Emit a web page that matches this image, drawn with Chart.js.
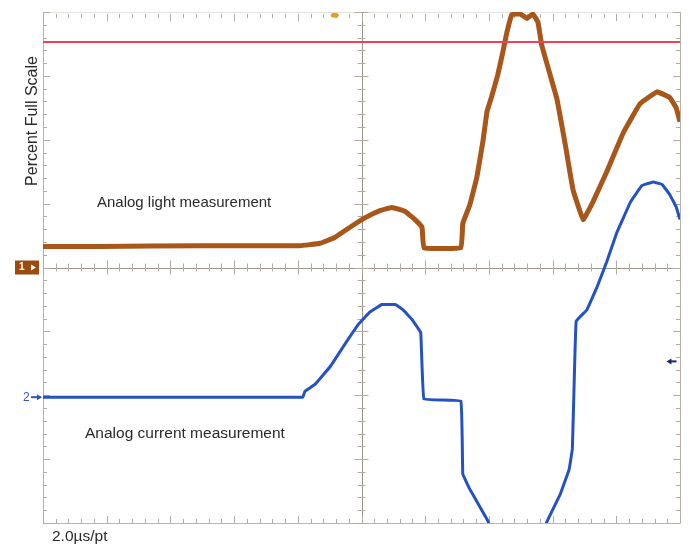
<!DOCTYPE html>
<html>
<head>
    <title>Analog light and current measurement</title>
    <script src="https://cdn.jsdelivr.net/npm/chart.js"></script>
    <style>
        body { margin: 0; background: #fff; }
        #wrap { width: 690px; height: 545px; }
    </style>
</head>
<body>
    <div id="wrap"><canvas id="scopeChart"></canvas></div>

    <script>
        // time axis in screen divisions (0..10), amplitude in divisions (-4..4)
        const lightX = [0, 0.9, 2.47, 4.03, 4.35, 4.58, 4.82, 5.06, 5.29, 5.48, 5.68, 5.84, 5.95, 5.98, 6.56, 6.59,
            6.70, 6.81, 6.91, 6.97, 7.05, 7.14, 7.22, 7.28, 7.36, 7.49, 7.60, 7.69, 7.77, 7.83, 7.96, 8.07, 8.20,
            8.32, 8.48, 8.63, 8.85, 9.11, 9.37, 9.64, 9.84, 9.94, 10];
        const lightY = [0.33, 0.33, 0.34, 0.34, 0.38, 0.47, 0.63, 0.78, 0.89, 0.94, 0.88, 0.75, 0.63, 0.31, 0.31, 0.69,
            0.98, 1.41, 2.0, 2.44, 2.70, 3.02, 3.38, 3.67, 3.96, 3.97, 3.90, 3.97, 3.84, 3.48, 3.02, 2.63, 1.92,
            1.22, 0.75, 1.02, 1.5, 2.11, 2.56, 2.75, 2.66, 2.5, 2.28];

        const currentX = [0, 1.68, 3.25, 4.08, 4.11, 4.27, 4.51, 4.74, 4.95, 5.13, 5.32, 5.53, 5.65, 5.79, 5.93, 5.98,
            6.56, 6.59, 6.70, 6.86, 6.99, 7.17, 7.44, 7.72, 7.91, 8.12, 8.26, 8.31, 8.34, 8.37, 8.54, 8.70, 8.85,
            9.01, 9.22, 9.40, 9.58, 9.72, 9.84, 9.94, 10];
        const currentY = [-2.03, -2.03, -2.03, -2.03, -1.94, -1.83, -1.55, -1.2, -0.89, -0.70, -0.58, -0.58, -0.66,
            -0.81, -1.02, -2.06, -2.09, -3.23, -3.47, -3.75, -3.98, -4.56, -5.03, -4.56, -3.98, -3.55, -3.16, -2.84,
            -1.75, -0.84, -0.66, -0.30, 0.09, 0.55, 1.02, 1.28, 1.34, 1.30, 1.14, 0.95, 0.75];

        const limitLevel = 3.53;
        const ch2Level = -2.03;
        const triggerLevel = -1.47;
        const triggerPos = 4.58;

        const toPoints = (xs, ys) => xs.map((x, i) => ({ x: x, y: ys[i] }));

        // scope graticule, ticks, markers and labels
        const scopeFrame = {
            id: 'scopeFrame',
            beforeDatasetsDraw(chart) {
                const ctx = chart.ctx;
                const xs = chart.scales.x, ys = chart.scales.y;
                const left = xs.getPixelForValue(0), right = xs.getPixelForValue(10);
                const top = ys.getPixelForValue(4), bottom = ys.getPixelForValue(-4);
                const cx = xs.getPixelForValue(5), cy = ys.getPixelForValue(0);
                ctx.save();
                ctx.lineWidth = 1;
                ctx.strokeStyle = '#b8b4ac';
                ctx.beginPath();
                ctx.moveTo(left + 0.5, top); ctx.lineTo(left + 0.5, bottom + 0.5);
                ctx.lineTo(right + 0.5, bottom + 0.5); ctx.lineTo(right + 0.5, top);
                ctx.stroke();
                ctx.strokeStyle = '#e6e4e0';
                ctx.beginPath();
                ctx.moveTo(left, top + 0.5); ctx.lineTo(right, top + 0.5);
                ctx.stroke();
                // centre cross
                ctx.strokeStyle = '#9a968e';
                ctx.beginPath();
                ctx.moveTo(Math.round(cx) + 0.5, top); ctx.lineTo(Math.round(cx) + 0.5, bottom);
                ctx.moveTo(left, Math.round(cy) + 0.5); ctx.lineTo(right, Math.round(cy) + 0.5);
                ctx.stroke();
                // minor ticks
                ctx.strokeStyle = '#b0aca4';
                ctx.beginPath();
                for (let i = 0; i <= 50; i++) {
                    const px = Math.round(xs.getPixelForValue(i / 5)) + 0.5;
                    const len = i % 5 === 0 ? 7 : 4;
                    ctx.moveTo(px, bottom); ctx.lineTo(px, bottom - len);
                    ctx.moveTo(px, top + 2); ctx.lineTo(px, top + 2 + len);
                    ctx.moveTo(px, cy - len); ctx.lineTo(px, cy + len);
                }
                for (let i = 0; i <= 40; i++) {
                    const py = Math.round(ys.getPixelForValue(-4 + i / 5)) + 0.5;
                    const len = i % 5 === 0 ? 7 : 4;
                    ctx.moveTo(left, py); ctx.lineTo(left + len, py);
                    ctx.moveTo(right, py); ctx.lineTo(right - len, py);
                    ctx.moveTo(cx - len, py); ctx.lineTo(cx + len, py);
                }
                ctx.stroke();
                ctx.restore();
            },
            afterDraw(chart) {
                const ctx = chart.ctx;
                const xs = chart.scales.x, ys = chart.scales.y;
                const left = xs.getPixelForValue(0);
                const cy = ys.getPixelForValue(0);
                ctx.save();
                // channel 1 marker
                ctx.fillStyle = '#9c4a10';
                ctx.fillRect(left - 28, cy - 7, 24, 14);
                ctx.fillStyle = '#fff';
                ctx.font = 'bold 10px "Liberation Sans", Arial, sans-serif';
                ctx.textBaseline = 'middle';
                ctx.fillText('1', left - 24, cy);
                ctx.beginPath();
                ctx.moveTo(left - 12, cy - 3); ctx.lineTo(left - 7, cy); ctx.lineTo(left - 12, cy + 3);
                ctx.fill();
                // channel 2 marker
                const y2 = ys.getPixelForValue(ch2Level);
                ctx.fillStyle = '#3058b8';
                ctx.font = '12px "Liberation Sans", Arial, sans-serif';
                ctx.fillText('2', left - 20, y2 + 1);
                ctx.fillRect(left - 12, y2 - 1, 10, 2);
                ctx.beginPath();
                ctx.moveTo(left - 6, y2 - 3); ctx.lineTo(left - 1, y2); ctx.lineTo(left - 6, y2 + 3);
                ctx.fill();
                // trigger level marker (right)
                const tx = xs.getPixelForValue(9.85), ty = ys.getPixelForValue(triggerLevel);
                ctx.fillStyle = '#1a2a6a';
                ctx.beginPath();
                ctx.moveTo(tx - 4, ty); ctx.lineTo(tx + 1, ty - 3); ctx.lineTo(tx + 1, ty + 3);
                ctx.fill();
                ctx.fillRect(tx, ty - 1, 6, 2);
                // trigger position marker (top)
                const px = xs.getPixelForValue(triggerPos);
                ctx.fillStyle = '#e0a020';
                ctx.beginPath();
                ctx.ellipse(px, ys.getPixelForValue(3.95), 4, 2.5, 0, 0, Math.PI * 2);
                ctx.fill();
                // texts
                ctx.fillStyle = '#2a2a2a';
                ctx.font = '15px "Liberation Sans", Arial, sans-serif';
                ctx.textBaseline = 'middle';
                ctx.fillText('Analog light measurement', 97, ys.getPixelForValue(1.01));
                ctx.font = '15.5px "Liberation Sans", Arial, sans-serif';
                ctx.fillText('Analog current measurement', 85, ys.getPixelForValue(-2.6));
                ctx.fillText('2.0\u00b5s/pt', 52, 537);
                ctx.font = '16px "Liberation Sans", Arial, sans-serif';
                ctx.translate(33, 121);
                ctx.rotate(-Math.PI / 2);
                ctx.textAlign = 'center';
                ctx.fillText('Percent Full Scale', 0, 0);
                ctx.restore();
            }
        };

        const ctx = document.getElementById('scopeChart').getContext('2d');
        new Chart(ctx, {
            type: 'line',
            data: {
                datasets: [{
                    label: 'Limit',
                    data: toPoints([0, 10], [limitLevel, limitLevel]),
                    borderColor: '#f0405a',
                    borderWidth: 2,
                    pointRadius: 0
                }, {
                    label: 'Analog light measurement',
                    data: toPoints(lightX, lightY),
                    borderColor: '#a8561a',
                    borderWidth: 5,
                    pointRadius: 0,
                    tension: 0.08
                }, {
                    label: 'Analog current measurement',
                    data: toPoints(currentX, currentY),
                    borderColor: '#2452c4',
                    borderWidth: 3,
                    pointRadius: 0,
                    tension: 0.05
                }]
            },
            options: {
                responsive: true,
                maintainAspectRatio: false,
                animation: false,
                layout: { padding: { left: 43, right: 10, top: 12, bottom: 22 } },
                plugins: { legend: { display: false }, tooltip: { enabled: false } },
                scales: {
                    x: { type: 'linear', min: 0, max: 10, display: false },
                    y: { type: 'linear', min: -4, max: 4, display: false }
                }
            },
            plugins: [scopeFrame]
        });
    </script>
</body>
</html>
